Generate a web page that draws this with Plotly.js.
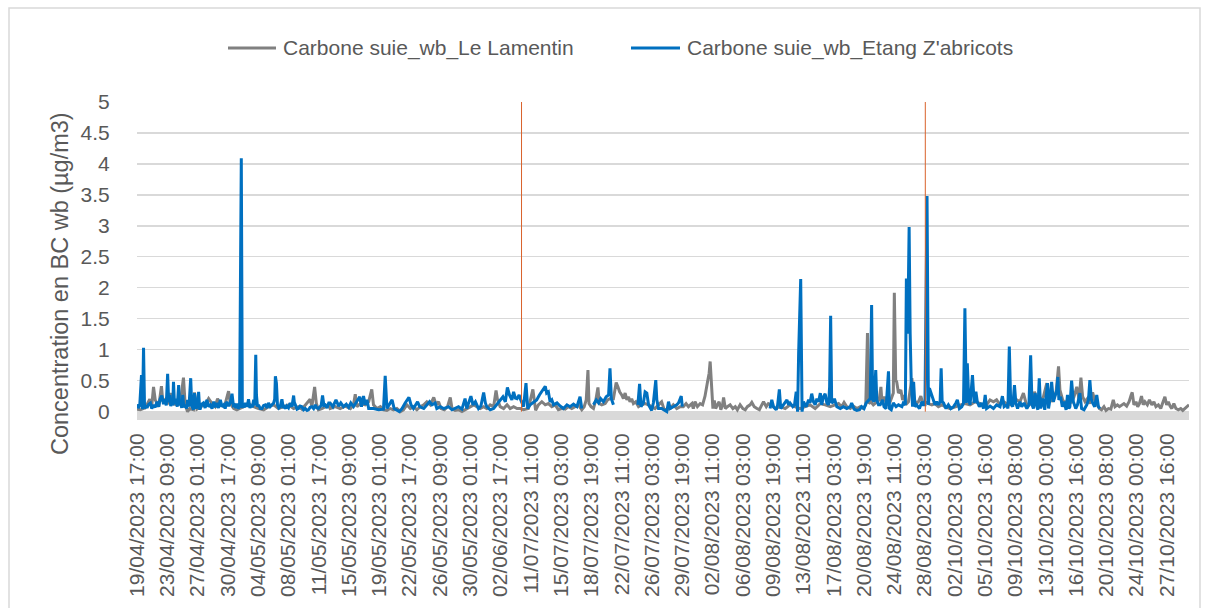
<!DOCTYPE html>
<html>
<head>
<meta charset="utf-8">
<script src="https://cdn.plot.ly/plotly-3.0.1.min.js"></script>
<style>
html,body{margin:0;padding:0;background:#fff;}
#chart{width:1208px;height:608px;}
</style>
</head>
<body>
<div id="chart"></div>
<script>
// Category (hour) labels shown on the x axis, one every 88 hourly records
const tickLabels = [
  "19/04/2023 17:00","23/04/2023 09:00","27/04/2023 01:00","30/04/2023 17:00",
  "04/05/2023 09:00","08/05/2023 01:00","11/05/2023 17:00","15/05/2023 09:00",
  "19/05/2023 01:00","22/05/2023 17:00","26/05/2023 09:00","30/05/2023 01:00",
  "02/06/2023 17:00","11/07/2023 11:00","15/07/2023 03:00","18/07/2023 19:00",
  "22/07/2023 11:00","26/07/2023 03:00","29/07/2023 19:00","02/08/2023 11:00",
  "06/08/2023 03:00","09/08/2023 19:00","13/08/2023 11:00","17/08/2023 03:00",
  "20/08/2023 19:00","24/08/2023 11:00","28/08/2023 03:00","02/10/2023 00:00",
  "05/10/2023 16:00","09/10/2023 08:00","13/10/2023 00:00","16/10/2023 16:00",
  "20/10/2023 08:00","24/10/2023 00:00","27/10/2023 16:00"
];
const recordsPerTick = 88;
const lastRecord = 3056;

// Vertical marker lines (record index)
const markerRecords = [1117, 2290];

// Carbone suie_wb_Le Lamentin : [record index, µg/m3]
const lamentin = [
[0,0.04],[10,0.03],[24,0.06],[37,0.2],[43,0.1],[48,0.4],[53,0.19],[63,0.08],[71,0.41],[75,0.16],[85,0.21],[92,0.12],[97,0.3],[104,0.13],[116,0.11],[126,0.15],[135,0.55],[140,0.11],[147,0.0],[153,0.05],[164,0.03],[167,0.31],[174,0.04],[184,0.08],[198,0.11],[208,0.21],[218,0.13],[227,0.08],[234,0.21],[242,0.11],[254,0.08],[266,0.33],[271,0.13],[281,0.05],[290,0.03],[300,0.05],[310,0.08],[324,0.13],[339,0.08],[353,0.05],[368,0.03],[382,0.08],[397,0.11],[411,0.05],[426,0.08],[440,0.11],[455,0.05],[469,0.08],[479,0.04],[489,0.11],[496,0.16],[503,0.2],[508,0.08],[516,0.4],[521,0.13],[527,0.03],[537,0.05],[547,0.08],[557,0.11],
[561,0.05],[576,0.08],[590,0.05],[605,0.09],[620,0.05],[629,0.11],[634,0.28],[639,0.08],[649,0.13],[663,0.11],[673,0.16],[682,0.36],[687,0.11],[697,0.05],[707,0.08],[716,0.03],[726,0.02],[736,0.05],[745,0.03],[755,0.05],[765,0.0],[774,0.03],[784,0.11],[794,0.05],[803,0.08],[813,0.03],[823,0.08],[833,0.11],[842,0.16],[852,0.11],[862,0.23],[869,0.11],[876,0.16],[883,0.05],[893,0.03],[902,0.08],[910,0.23],[915,0.05],[924,0.02],[934,0.03],[944,0.0],[958,0.05],[968,0.08],[978,0.11],[987,0.08],[997,0.05],[1007,0.08],[1016,0.05],[1026,0.11],[1036,0.08],[1043,0.34],[1047,0.2],[1055,0.08],[1065,0.05],[1075,0.11],[1084,0.05],[1094,0.08],[1104,0.05],
[1113,0.05],[1123,0.03],[1137,0.05],[1144,0.24],[1150,0.36],[1154,0.19],[1158,0.02],[1166,0.11],[1176,0.16],[1186,0.11],[1195,0.13],[1205,0.08],[1215,0.11],[1224,0.03],[1234,0.05],[1244,0.04],[1253,0.08],[1263,0.05],[1273,0.08],[1282,0.11],[1292,0.03],[1299,0.08],[1305,0.19],[1310,0.67],[1313,0.13],[1319,0.08],[1326,0.05],[1333,0.19],[1339,0.39],[1343,0.13],[1350,0.11],[1360,0.13],[1367,0.19],[1374,0.21],[1384,0.21],[1392,0.47],[1397,0.4],[1402,0.32],[1408,0.27],[1413,0.21],[1418,0.3],[1423,0.19],[1428,0.24],[1432,0.16],[1437,0.21],[1442,0.13],[1449,0.16],[1457,0.08],[1466,0.11],[1476,0.13],[1486,0.11],[1495,0.08],[1505,0.05],[1515,0.11],[1524,0.16],[1531,0.04],[1539,0.03],[1549,0.05],[1558,0.11],[1568,0.05],[1578,0.08],[1587,0.08],[1595,0.13],[1602,0.08],[1612,0.13],[1616,0.05],[1621,0.16],[1628,0.08],[1636,0.13],[1643,0.11],
[1650,0.25],[1657,0.47],[1662,0.62],[1665,0.81],[1669,0.4],[1673,0.05],[1677,0.18],[1681,0.05],[1686,0.11],[1691,0.16],[1696,0.03],[1701,0.11],[1704,0.23],[1709,0.05],[1715,0.08],[1723,0.11],[1731,0.05],[1738,0.08],[1744,0.03],[1752,0.11],[1760,0.05],[1767,0.03],[1773,0.08],[1781,0.11],[1786,0.15],[1793,0.08],[1801,0.05],[1808,0.03],[1815,0.11],[1820,0.16],[1828,0.08],[1834,0.13],[1841,0.11],[1854,0.05],[1868,0.08],[1883,0.05],[1897,0.11],[1912,0.08],[1926,0.05],[1941,0.08],[1955,0.11],[1970,0.05],[1985,0.13],[1999,0.11],[2014,0.08],[2028,0.11],[2038,0.13],[2047,0.08],[2054,0.15],[2062,0.08],[2072,0.05],[2081,0.09],[2091,0.05],[2101,0.08],[2110,0.05],[2117,0.11],[2122,1.27],[2126,0.13],[2132,0.16],[2139,0.11],[2149,0.16],[2156,0.19],
[2161,0.4],[2164,0.16],[2171,0.24],[2178,0.11],[2188,0.16],[2193,0.24],[2197,0.3],[2200,1.92],[2204,0.51],[2207,0.48],[2212,0.3],[2219,0.35],[2224,0.19],[2228,0.27],[2233,0.11],[2241,0.16],[2246,0.4],[2251,0.54],[2255,0.24],[2263,0.13],[2270,0.16],[2277,0.25],[2283,0.13],[2289,0.16],[2299,0.13],[2309,0.11],[2318,0.13],[2328,0.08],[2338,0.11],[2347,0.08],[2362,0.05],[2376,0.08],[2391,0.11],[2405,0.13],[2420,0.11],[2435,0.16],[2449,0.13],[2459,0.08],[2468,0.11],[2478,0.19],[2488,0.16],[2497,0.19],[2507,0.11],[2517,0.16],[2526,0.13],[2536,0.11],[2546,0.13],[2556,0.19],[2565,0.16],[2575,0.3],[2583,0.13],[2592,0.11],[2602,0.19],[2607,0.32],
[2612,0.24],[2623,0.16],[2633,0.24],[2643,0.46],[2650,0.24],[2660,0.16],[2670,0.32],[2677,0.73],[2681,0.35],[2689,0.19],[2696,0.13],[2706,0.21],[2715,0.16],[2722,0.24],[2730,0.4],[2737,0.19],[2742,0.55],[2747,0.24],[2754,0.16],[2761,0.21],[2768,0.13],[2776,0.31],[2783,0.16],[2790,0.11],[2796,0.05],[2802,0.03],[2809,0.08],[2815,0.02],[2822,0.05],[2829,0.04],[2836,0.19],[2841,0.08],[2848,0.11],[2854,0.08],[2860,0.11],[2867,0.13],[2875,0.09],[2882,0.16],[2888,0.27],[2891,0.31],[2896,0.11],[2902,0.16],[2907,0.08],[2912,0.13],[2918,0.25],[2923,0.11],[2928,0.16],[2935,0.11],[2941,0.19],[2948,0.11],[2954,0.16],[2960,0.08],[2967,0.11],[2974,0.05],[2979,0.13],[2986,0.24],[2991,0.11],[2996,0.16],[3001,0.09],[3006,0.05],[3012,0.13],[3018,0.05],[3025,0.03],[3032,0.05],[3038,0.02],[3044,0.05],[3051,0.08],[3056,0.11]
];

// Carbone suie_wb_Etang Z'abricots : [record index, µg/m3] (null = no data)
const etang = [
[0,0.12],[4,0.06],[8,0.1],[13,0.59],[16,0.04],[19,1.03],[22,0.05],[26,0.1],[29,0.06],[34,0.12],[39,0.14],[43,0.05],[48,0.11],[53,0.07],[58,0.16],[63,0.08],[67,0.2],[72,0.26],[77,0.12],[81,0.2],[85,0.1],[89,0.61],[92,0.15],[95,0.27],[98,0.09],[101,0.16],[104,0.1],[106,0.48],[109,0.12],[113,0.21],[117,0.08],[121,0.43],[124,0.1],[126,0.14],[130,0.06],[133,0.27],[136,0.07],[140,0.11],[144,0.05],[147,0.19],[151,0.08],[156,0.54],[159,0.1],[161,0.08],[164,0.03],[167,0.3],[170,0.06],[172,0.05],[176,0.1],[179,0.32],[182,0.05],[184,0.05],[188,0.12],[193,0.14],[198,0.06],[203,0.19],[208,0.08],[213,0.11],[218,0.05],[223,0.16],[228,0.07],[232,0.14],[237,0.06],[242,0.19],[247,0.08],[252,0.11],[256,0.05],[261,0.16],[266,0.09],[271,0.14],[276,0.29],[280,0.1],[283,0.11],[287,0.06],[290,0.13],[294,0.05],[298,0.08],[303,4.09],[306,0.06],[308,0.11],[312,0.07],[315,0.14],[320,0.08],[324,0.2],[328,0.06],[331,0.11],[335,0.07],[339,0.19],[342,0.1],[345,0.92],[347,0.27],[350,0.08],[353,0.11],[358,0.05],[363,0.05],[368,0.1],[373,0.11],[378,0.06],[382,0.14],[387,0.08],[392,0.11],[397,0.14],[400,0.2],[402,0.57],[405,0.46],[408,0.11],[412,0.06],[416,0.08],[421,0.2],[425,0.06],[428,0.08],[432,0.05],[435,0.09],[440,0.06],[445,0.14],[450,0.08],[455,0.26],[458,0.1],[460,0.11],[465,0.04],[469,0.05],[474,0.09],[479,0.08],[484,0.03],[489,0.05],[494,0.02],[498,0.03],[503,0.07],[508,0.08],[513,0.05],[518,0.11],[522,0.06],[527,0.05],[532,0.08],[535,0.1],[539,0.26],[543,0.1],[547,0.11],[552,0.06],[557,0.14],
[561,0.14],[569,0.08],[578,0.19],[586,0.09],[592,0.14],[600,0.08],[608,0.12],[615,0.07],[621,0.14],[629,0.08],[639,0.16],[647,0.24],[652,0.08],[658,0.25],[663,0.11],[668,0.19],[673,0.05],[687,0.05],[702,0.03],[716,0.04],[721,0.58],[726,0.05],[741,0.19],[747,0.05],[762,0.0],[770,0.05],[779,0.14],[786,0.2],[790,0.23],[796,0.11],[803,0.05],[815,0.16],[821,0.08],[833,0.05],[842,0.11],[850,0.16],[857,0.11],[866,0.14],[871,0.05],[881,0.08],[891,0.05],[905,0.08],[915,0.03],[924,0.05],[934,0.08],[944,0.04],[953,0.21],[958,0.05],[970,0.25],[976,0.11],[983,0.16],[992,0.05],[999,0.09],[1007,0.31],[1012,0.14],[1016,0.08],[1026,0.03],[1036,0.05],[1045,0.11],[1055,0.19],[1063,0.24],[1070,0.16],[1076,0.39],[1082,0.27],[1089,0.19],[1094,0.32],[1099,0.22],[1104,0.21],[1110,0.27],[1114,0.2],
[1118,0.14],[1123,0.08],[1130,0.46],[1135,0.05],[1142,0.11],[1161,0.19],[1169,0.27],[1176,0.32],[1186,0.41],[1190,0.3],[1195,0.32],[1200,0.16],[1205,0.19],[1210,0.11],[1220,0.14],[1229,0.09],[1239,0.05],[1249,0.11],[1258,0.08],[1268,0.12],[1278,0.08],[1287,0.24],[1292,0.05],[1300,null],
[1326,0.11],[1334,0.19],[1341,0.14],[1347,0.21],[1355,0.16],[1363,0.24],[1370,0.27],[1374,0.7],[1378,0.21],[1384,0.11],[1390,null],
[1455,0.11],[1460,0.45],[1464,0.08],[1471,0.14],[1476,0.32],[1481,0.3],[1486,0.11],[1491,0.05],[1495,0.02],[1500,0.14],[1507,0.51],[1510,0.19],[1515,0.05],[1524,0.05],[1531,0.03],[1539,0.0],[1544,0.16],[1549,0.05],[1558,0.08],[1568,0.11],[1573,0.14],[1581,0.25],[1584,0.08],[1595,null],
[1839,0.05],[1844,0.19],[1849,0.08],[1857,0.03],[1861,0.11],[1866,0.36],[1870,0.05],[1878,0.11],[1883,0.16],[1888,0.19],[1893,0.11],[1897,0.14],[1905,0.08],[1910,0.11],[1915,0.32],[1919,0.0],[1922,0.94],[1928,2.14],[1932,0.0],[1936,0.16],[1944,0.08],[1951,0.19],[1955,0.14],[1960,0.29],[1965,0.16],[1970,0.11],[1975,0.21],[1980,0.16],[1985,0.3],[1989,0.11],[1994,0.24],[1999,0.29],[2004,0.14],[2009,0.11],[2012,0.4],[2015,1.55],[2018,0.14],[2023,0.16],[2026,0.21],[2033,0.08],[2043,0.05],[2052,0.08],[2062,0.05],[2072,0.08],[2076,0.14],[2083,0.04],[2091,0.02],[2099,0.03],[2105,0.08],[2112,0.05],[2118,0.14],[2125,0.19],[2130,0.21],[2134,1.72],[2137,0.19],[2141,0.16],[2146,0.67],[2149,0.19],[2154,0.11],
[2159,0.11],[2166,0.19],[2170,0.08],[2176,0.05],[2183,0.65],[2186,0.05],[2191,0.03],[2197,0.14],[2205,0.08],[2212,0.11],[2222,0.08],[2226,0.14],[2232,0.11],[2235,2.15],[2239,1.26],[2243,2.98],[2246,1.26],[2249,0.5],[2253,0.08],[2256,0.48],[2260,0.08],[2265,0.11],[2273,0.05],[2280,0.16],[2284,0.11],[2289,0.11],[2295,3.48],[2299,0.11],[2302,0.38],[2307,0.3],[2314,0.16],[2318,0.11],[2323,0.16],[2328,0.11],[2333,0.16],[2336,0.7],[2339,0.16],[2343,0.14],[2350,0.05],[2357,0.11],[2364,0.05],[2372,0.08],[2379,0.14],[2383,0.19],[2389,0.05],[2396,0.08],[2401,0.14],[2405,1.67],[2409,0.14],[2412,0.78],[2416,0.21],[2420,0.11],[2427,0.59],[2432,0.14],[2437,0.32],[2441,0.16],[2447,0.08],[2454,0.14],[2459,0.05],[2464,0.27],[2468,0.05],[2478,0.09],[2488,0.05],[2497,0.11],[2507,0.08],[2514,0.25],[2519,0.08],[2527,0.11],[2530,0.05],[2534,1.05],[2538,0.14],[2544,0.08],[2549,0.43],[2553,0.14],[2558,0.05],[2565,0.16],[2570,0.08],[2577,0.14],[2585,0.05],[2591,0.11],[2596,0.91],[2600,0.11],[2604,0.05],
[2609,0.3],[2614,0.08],[2617,0.03],[2621,0.54],[2625,0.05],[2631,0.21],[2637,0.03],[2645,0.46],[2648,0.05],[2652,0.19],[2657,0.48],[2662,0.16],[2667,0.24],[2672,0.35],[2675,0.56],[2678,0.19],[2683,0.24],[2688,0.08],[2693,0.16],[2699,0.03],[2703,0.27],[2707,0.05],[2710,0.08],[2715,0.5],[2720,0.16],[2727,0.05],[2732,0.11],[2739,0.3],[2744,0.05],[2751,0.03],[2759,0.11],[2764,0.19],[2768,0.51],[2772,0.21],[2776,0.14],[2782,0.08],[2788,0.27],[2793,0.08],[2797,0.05]
];

const W = 1208, H = 608;
const M = {l: 137, r: 19, t: 102, b: 188};
const pw = W - M.l - M.r, ph = H - M.t - M.b;
const px = x => (x - M.l) / pw;          // pixel -> paper x
const py = y => (M.t + ph - y) / ph;     // pixel -> paper y

const textColor = '#595959';
const fontFam = 'Liberation Sans, Arial, sans-serif';

const traces = [
  {
    x: lamentin.map(p => p[0]), y: lamentin.map(p => p[1]),
    type: 'scatter', mode: 'lines', name: 'Carbone suie_wb_Le Lamentin',
    line: {color: '#808080', width: 3}, connectgaps: false, hoverinfo: 'skip'
  },
  {
    x: etang.map(p => p[0]), y: etang.map(p => p[1]),
    type: 'scatter', mode: 'lines', name: "Carbone suie_wb_Etang Z'abricots",
    line: {color: '#0070C0', width: 3}, connectgaps: false, hoverinfo: 'skip'
  }
];

const shapes = [
  // outer chart border
  {type: 'rect', xref: 'paper', yref: 'paper', x0: px(9), x1: px(1200), y0: py(630), y1: py(8),
   line: {color: '#d9d9d9', width: 1.5}, fillcolor: 'rgba(0,0,0,0)', layer: 'below'},
  // grey band under the zero line
  {type: 'rect', xref: 'paper', yref: 'y', x0: 0, x1: 1, y0: -0.135, y1: 0,
   line: {width: 0}, fillcolor: '#d9d9d9', layer: 'below'},
  // legend line samples
  {type: 'line', xref: 'paper', yref: 'paper', x0: px(228), x1: px(276), y0: py(48), y1: py(48),
   line: {color: '#808080', width: 3}},
  {type: 'line', xref: 'paper', yref: 'paper', x0: px(631), x1: px(680), y0: py(48), y1: py(48),
   line: {color: '#0070C0', width: 3}}
];
markerRecords.forEach(r => shapes.push({
  type: 'line', xref: 'x', yref: 'y', x0: r, x1: r, y0: 0, y1: 5,
  line: {color: '#D9622B', width: 1}, layer: 'above'
}));

const annotations = [
  {xref: 'paper', yref: 'paper', x: px(281), y: py(48), xanchor: 'left', yanchor: 'middle',
   text: 'Carbone suie_wb_Le Lamentin', showarrow: false,
   font: {family: fontFam, size: 21, color: textColor}},
  {xref: 'paper', yref: 'paper', x: px(685), y: py(48), xanchor: 'left', yanchor: 'middle',
   text: "Carbone suie_wb_Etang Z'abricots", showarrow: false,
   font: {family: fontFam, size: 21, color: textColor}},
  {xref: 'paper', yref: 'paper', x: px(60), y: py(284), xanchor: 'center', yanchor: 'middle',
   text: 'Concentration en BC wb (µg/m3)', textangle: -90, showarrow: false,
   font: {family: fontFam, size: 23.5, color: textColor}}
];

const layout = {
  width: W, height: H,
  margin: M,
  paper_bgcolor: '#ffffff', plot_bgcolor: '#ffffff',
  showlegend: false,
  font: {family: fontFam, color: textColor, size: 21},
  xaxis: {
    range: [0, lastRecord], showgrid: false, zeroline: false, showline: false,
    tickmode: 'array',
    tickvals: tickLabels.map((_, i) => i * recordsPerTick),
    ticktext: tickLabels,
    tickangle: -90, ticks: 'outside', ticklen: 4, tickcolor: 'rgba(0,0,0,0)',
    tickfont: {family: fontFam, size: 21, color: textColor}
  },
  yaxis: {
    range: [-0.135, 5], tickmode: 'array',
    tickvals: [0,0.5,1,1.5,2,2.5,3,3.5,4,4.5,5],
    ticktext: ['0','0.5','1','1.5','2','2.5','3','3.5','4','4.5','5'],
    showgrid: true, gridcolor: '#d9d9d9', gridwidth: 1.3,
    zeroline: false, showline: false,
    ticks: 'outside', ticklen: 22, tickcolor: 'rgba(0,0,0,0)',
    tickfont: {family: fontFam, size: 21, color: textColor}
  },
  shapes: shapes,
  annotations: annotations
};

Plotly.newPlot('chart', traces, layout, {staticPlot: true, displayModeBar: false});
</script>
</body>
</html>
